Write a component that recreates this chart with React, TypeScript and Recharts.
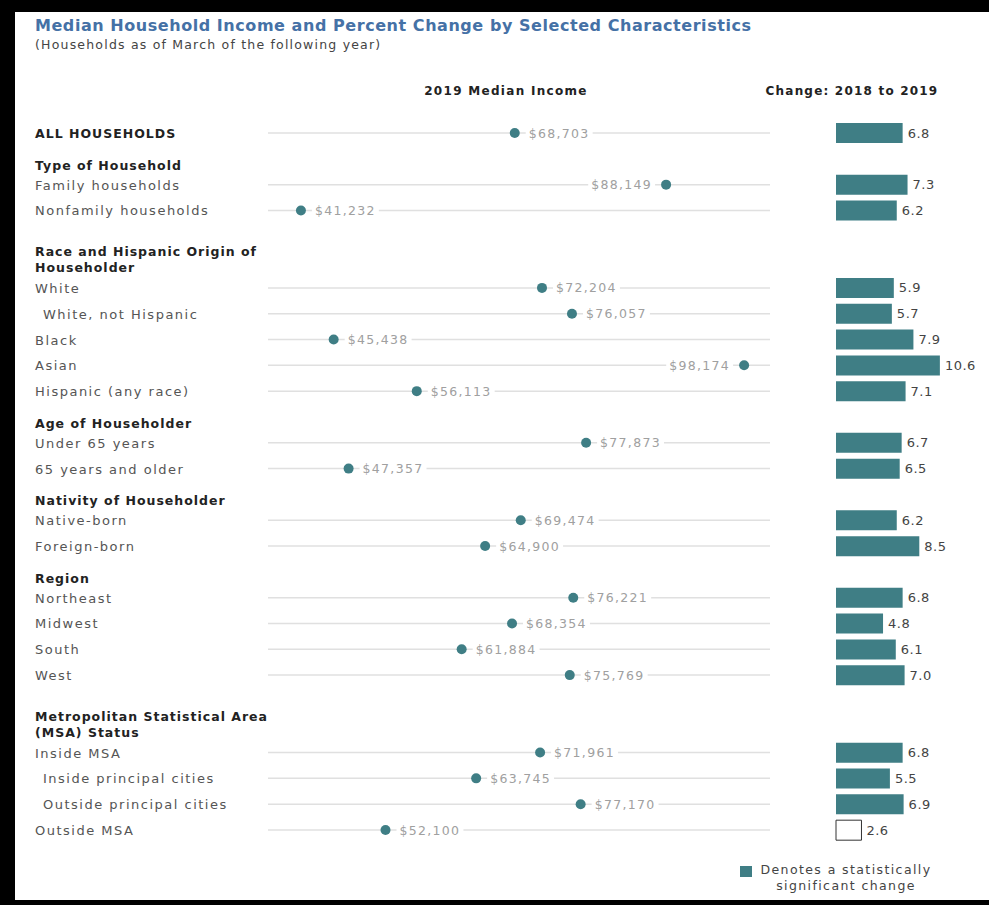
import React from 'react'
import {
  ComposedChart, Scatter, Bar, Cell, XAxis, YAxis, ReferenceLine, LabelList,
} from 'recharts'

// rows from top to bottom, headers and blank spacer rows included
const rowIds = [
  'all', 'h_type', 'family', 'nonfamily', 'gap1', 'h_race', 'white', 'white_nh', 'black', 'asian',
  'hispanic', 'h_age', 'under65', 'over65', 'h_nativity', 'native', 'foreign', 'h_region',
  'northeast', 'midwest', 'south', 'west', 'gap2', 'h_msa', 'inside_msa', 'inside_pc',
  'outside_pc', 'outside_msa',
]

const rowLabels = [
  'ALL HOUSEHOLDS', 'Type of Household', 'Family households', 'Nonfamily households', '',
  'Race and Hispanic Origin of\nHouseholder', 'White', 'White, not Hispanic', 'Black', 'Asian',
  'Hispanic (any race)', 'Age of Householder', 'Under 65 years', '65 years and older',
  'Nativity of Householder', 'Native-born', 'Foreign-born', 'Region', 'Northeast', 'Midwest',
  'South', 'West', '', 'Metropolitan Statistical Area\n(MSA) Status', 'Inside MSA',
  'Inside principal cities', 'Outside principal cities', 'Outside MSA',
]

const rowKinds = [
  'total', 'header', 'item', 'item', 'blank', 'header', 'item', 'sub', 'item', 'item',
  'item', 'header', 'item', 'item', 'header', 'item', 'item', 'header', 'item', 'item',
  'item', 'item', 'blank', 'header', 'item', 'sub', 'sub', 'item',
]

const medianIncome = [
  68703, null, 88149, 41232, null, null, 72204, 76057, 45438, 98174,
  56113, null, 77873, 47357, null, 69474, 64900, null, 76221, 68354,
  61884, 75769, null, null, 71961, 63745, 77170, 52100,
]

const pctChange = [
  6.8, null, 7.3, 6.2, null, null, 5.9, 5.7, 7.9, 10.6,
  7.1, null, 6.7, 6.5, null, 6.2, 8.5, null, 6.8, 4.8,
  6.1, 7.0, null, null, 6.8, 5.5, 6.9, 2.6,
]

const significant = [
  true, false, true, true, false, false, true, true, true, true,
  true, false, true, true, false, true, true, false, true, true,
  true, true, false, false, true, true, true, false,
]

const rows = rowIds.map((id, i) => ({
  id,
  label: rowLabels[i],
  kind: rowKinds[i],
  income: medianIncome[i],
  change: pctChange[i],
  sig: significant[i],
}))

const TEAL = '#3f7e85'
const FONT = '"DejaVu Sans", sans-serif'

function RowTick({ y, payload }: any) {
  const i = rowIds.indexOf(payload.value)
  if (i < 0) return null
  const kind = rowKinds[i]
  const lines = rowLabels[i].split('\n')
  if (kind === 'blank') return null
  const bold = kind === 'header' || kind === 'total'
  const x = kind === 'sub' ? 43 : 35
  let y0 = y
  if (kind === 'header') y0 = lines.length > 1 ? y - 11 : y + 6
  return (
    <text
      x={x}
      y={y0}
      dominantBaseline="central"
      fontFamily={FONT}
      fontSize={bold ? 12.5 : 13}
      fontWeight={bold ? 700 : 400}
      letterSpacing={bold ? 1.0 : 1.5}
      fill={bold ? '#222' : '#555'}
    >
      {lines.map((l, k) => (
        <tspan key={k} x={x} dy={k === 0 ? 0 : 16}>{l}</tspan>
      ))}
    </text>
  )
}

function IncomeDot(props: any) {
  const { cx, cy, payload } = props
  if (payload == null || payload.income == null || cx == null) return null
  const text = '$' + payload.income.toLocaleString('en-US')
  const w = text.length * 8.7
  const left = payload.income > 85000
  const tx = left ? cx - 14 - w : cx + 14
  return (
    <g>
      <rect x={tx - 3} y={cy - 8} width={w + 6} height={16} fill="#fff" />
      <text
        x={tx}
        y={cy}
        dominantBaseline="central"
        fontFamily={FONT}
        fontSize={12.5}
        letterSpacing={1.3}
        fill="#a0a0a0"
      >
        {text}
      </text>
      <circle cx={cx} cy={cy} r={5} fill={TEAL} />
    </g>
  )
}

function ChangeLabel(props: any) {
  const { x, y, width, height, value } = props
  if (value == null) return null
  return (
    <text
      x={x + width + 5}
      y={y + height / 2}
      dominantBaseline="central"
      fontFamily={FONT}
      fontSize={13}
      letterSpacing={0.5}
      fill="#444"
    >
      {Number(value).toFixed(1)}
    </text>
  )
}

export default function App() {
  return (
    <div
      style={{
        position: 'absolute', top: 0, left: 0, width: 989, height: 905,
        background: '#fff', overflow: 'hidden', fontFamily: FONT,
      }}
    >
      <div style={{ position: 'absolute', left: 0, top: 0, width: 989, height: 12, background: '#000' }} />
      <div style={{ position: 'absolute', left: 0, top: 0, width: 15, height: 905, background: '#000' }} />
      <div style={{ position: 'absolute', left: 0, top: 900, width: 989, height: 5, background: '#000' }} />

      <div
        style={{
          position: 'absolute', left: 35, top: 16, fontSize: 16, fontWeight: 700,
          color: '#4571a6', letterSpacing: 0.55, whiteSpace: 'nowrap',
        }}
      >
        Median Household Income and Percent Change by Selected Characteristics
      </div>
      <div
        style={{
          position: 'absolute', left: 35, top: 37, fontSize: 12.5, color: '#444',
          letterSpacing: 1.2, whiteSpace: 'nowrap',
        }}
      >
        (Households as of March of the following year)
      </div>
      <div
        style={{
          position: 'absolute', left: 406, top: 84, width: 200, textAlign: 'center',
          fontSize: 12, fontWeight: 700, color: '#222', letterSpacing: 1.3, whiteSpace: 'nowrap',
        }}
      >
        2019 Median Income
      </div>
      <div
        style={{
          position: 'absolute', left: 752, top: 84, width: 200, textAlign: 'center',
          fontSize: 12, fontWeight: 700, color: '#222', letterSpacing: 1.2, whiteSpace: 'nowrap',
        }}
      >
        Change: 2018 to 2019
      </div>

      <div style={{ position: 'absolute', left: 0, top: 0 }}>
        <ComposedChart
          width={790}
          height={905}
          layout="vertical"
          data={rows}
          margin={{ top: 133, right: 20, bottom: 75, left: 0 }}
        >
          <XAxis type="number" domain={[37000, 101500]} hide allowDataOverflow />
          <YAxis
            type="category"
            dataKey="id"
            width={268}
            axisLine={false}
            tickLine={false}
            interval={0}
            tick={<RowTick />}
          />
          {rows.filter((r) => r.income != null).map((r) => (
            <ReferenceLine key={r.id} y={r.id} stroke="#e0e0e0" strokeWidth={1.5} />
          ))}
          <Scatter dataKey="income" shape={<IncomeDot />} isAnimationActive={false} />
        </ComposedChart>
      </div>

      <div style={{ position: 'absolute', left: 0, top: 0 }}>
        <ComposedChart
          width={989}
          height={905}
          layout="vertical"
          data={rows}
          margin={{ top: 120, right: 6, bottom: 62, left: 836 }}
        >
          <XAxis type="number" domain={[0, 15]} hide />
          <YAxis
            type="category"
            dataKey="id"
            width={0}
            tick={false}
            tickLine={false}
            axisLine={{ stroke: '#4a4a4a', strokeWidth: 2 }}
          />
          <Bar dataKey="change" barSize={20} isAnimationActive={false}>
            {rows.map((r) => (
              <Cell
                key={r.id}
                fill={r.sig ? TEAL : '#fff'}
                stroke={r.sig ? 'none' : '#333'}
                strokeWidth={1}
              />
            ))}
            <LabelList dataKey="change" content={<ChangeLabel />} />
          </Bar>
        </ComposedChart>
      </div>

      <div
        style={{
          position: 'absolute', left: 740, top: 866, width: 12, height: 11, background: TEAL,
        }}
      />
      <div
        style={{
          position: 'absolute', left: 746, top: 862, width: 200, textAlign: 'center',
          fontSize: 12.5, lineHeight: '16px', color: '#444', letterSpacing: 1.4,
          whiteSpace: 'nowrap',
        }}
      >
        Denotes a statistically
        <br />
        significant change
      </div>
    </div>
  )
}
